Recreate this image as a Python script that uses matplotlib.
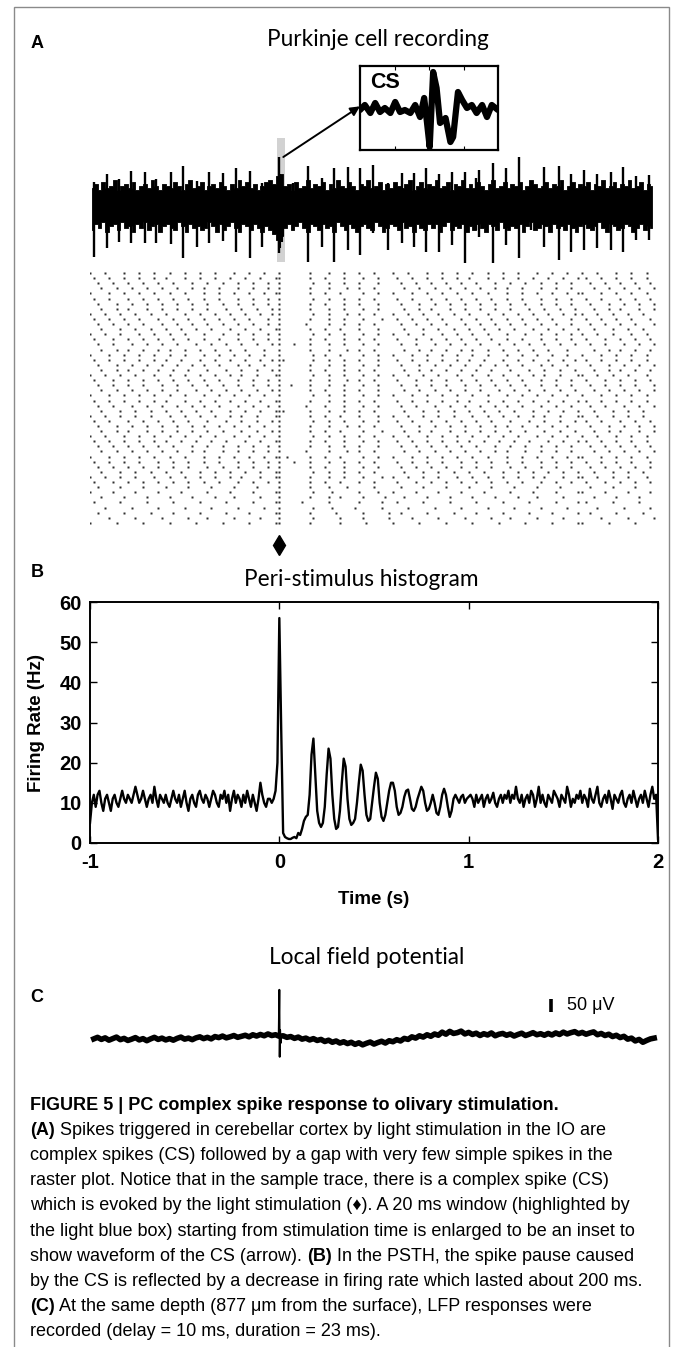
import numpy as np
import matplotlib
matplotlib.use("Agg")
import matplotlib.pyplot as plt
from matplotlib.patches import Rectangle

W, H = 673, 1347

# ---------------- data ----------------
# sample trace (A): envelope of the noise band every 20 ms, arbitrary units
trace_t0, trace_dt = -0.99, 0.02
trace_top = [0.9, 1.1, 0.8, 1.2, 0.9, 1.0, 1.3, 0.8, 1.0, 1.1,
             0.9, 1.2, 0.8, 1.0, 1.1, 0.9, 1.3, 1.0, 0.8, 1.1,
             1.0, 0.9, 1.2, 1.0, 0.8, 1.1, 1.3, 0.9, 1.0, 1.2,
             0.8, 1.0, 1.1, 0.9, 1.2, 1.0, 0.8, 1.1, 0.9, 1.3,
             1.0, 1.2, 0.9, 1.1, 0.8, 1.0, 1.2, 1.3, 1.1, 1.5,
             1.6, 1.0, 1.1, 0.8, 1.2, 0.9, 1.0, 1.3, 0.9, 1.1,
             1.0, 1.2, 0.8, 1.1, 0.9, 1.3, 1.0, 0.9, 1.2, 1.0,
             0.8, 1.1, 1.0, 1.3, 0.9, 1.0, 1.2, 0.8, 1.1, 0.9,
             1.2, 1.0, 0.9, 1.1, 1.3, 0.8, 1.0, 1.2, 0.9, 1.1,
             1.0, 1.3, 0.9, 1.0, 1.2, 0.8, 1.1, 1.0, 1.3, 0.9,
             1.1, 0.9, 1.2, 1.0, 0.8, 1.1, 1.3, 0.9, 1.0, 1.2,
             0.9, 1.1, 1.0, 1.2, 0.8, 1.0, 1.3, 1.1, 0.9, 1.0,
             1.2, 0.9, 1.1, 1.0, 1.3, 0.8, 1.0, 1.2, 0.9, 1.1,
             1.0, 1.2, 0.8, 1.1, 1.0, 1.3, 0.9, 1.0, 1.2, 0.9,
             1.1, 1.0, 1.3, 0.9, 1.0, 1.2, 0.8, 1.1, 1.0]
trace_bot = [-1.2, -0.9, -1.1, -0.8, -1.3, -1.0, -0.9, -1.2, -0.8, -1.1,
             -1.0, -1.3, -0.9, -1.1, -0.8, -1.2, -1.0, -0.9, -1.3, -1.0,
             -0.9, -1.1, -1.2, -0.8, -1.0, -1.3, -0.9, -1.1, -1.0, -1.2,
             -1.1, -0.8, -1.0, -1.3, -0.9, -1.2, -1.0, -0.8, -1.1, -1.3,
             -0.9, -1.0, -1.2, -0.9, -1.1, -1.3, -1.0, -1.2, -1.4, -1.7,
             -1.5, -1.1, -0.9, -1.2, -1.0, -0.8, -1.1, -1.3, -0.9, -1.0,
             -1.2, -0.9, -1.1, -1.0, -1.3, -0.8, -1.0, -1.2, -0.9, -1.1,
             -1.3, -1.0, -0.9, -1.1, -1.2, -0.8, -1.0, -1.3, -1.1, -0.9,
             -1.0, -1.2, -0.8, -1.1, -1.0, -1.3, -0.9, -1.1, -1.2, -0.9,
             -1.1, -0.9, -1.3, -1.0, -0.8, -1.2, -1.0, -1.1, -0.9, -1.3,
             -1.0, -1.2, -0.9, -1.1, -1.3, -0.9, -1.0, -1.2, -0.8, -1.1,
             -1.2, -1.0, -1.1, -0.9, -1.3, -1.0, -0.8, -1.2, -1.1, -0.9,
             -1.0, -1.3, -0.9, -1.1, -1.0, -1.2, -0.9, -1.1, -1.3, -1.0,
             -0.9, -1.1, -1.2, -1.0, -0.8, -1.1, -1.3, -0.9, -1.0, -1.2,
             -1.1, -0.9, -1.0, -1.3, -1.1, -0.9, -1.2, -1.0, -1.1]

# large simple spikes in the trace: time (s), peak, trough
spike_time = [-0.977, -0.910, -0.845, -0.783, -0.708, -0.651, -0.572, -0.511,
              -0.435, -0.370, -0.300, -0.229, -0.155, -0.092, 0.000, 0.070,
              0.153, 0.223, 0.287, 0.361, 0.428, 0.493, 0.572, 0.646, 0.709,
              0.775, 0.845, 0.912, 0.983, 1.039, 1.057, 1.127, 1.198, 1.264,
              1.330, 1.400, 1.475, 1.541, 1.611, 1.678, 1.752, 1.817, 1.884,
              1.955]
spike_peak = [1.22, 1.60, 1.35, 1.77, 1.69, 1.34, 1.72, 2.00, 1.25, 1.72,
              1.67, 1.92, 1.77, 1.14, 2.47, 1.14, 2.00, 1.39, 1.89, 1.97,
              1.89, 2.05, 1.14, 1.67, 1.64, 1.89, 1.60, 1.72, 1.72, 1.39,
              1.80, 2.17, 1.89, 2.44, 1.17, 1.97, 2.00, 1.60, 1.80, 1.60,
              1.72, 1.97, 1.50, 1.55]
spike_trough = [-2.53, -2.12, -1.78, -1.87, -1.83, -1.87, -1.92, -2.62, -2.03,
                -1.87, -1.73, -2.28, -2.62, -2.03, -2.37, -1.20, -2.78, -2.03,
                -2.78, -2.20, -2.45, -1.35, -2.20, -1.87, -2.03, -2.28, -2.28,
                -1.95, -2.87, -1.20, -1.53, -2.87, -1.95, -2.62, -1.20, -2.03,
                -2.70, -2.28, -2.20, -2.12, -2.20, -2.28, -1.70, -1.70]
# burst of the complex spike inside the 20 ms window
cs_time = [0.006, 0.012, 0.020]
cs_peak = [1.6, 1.3, 1.0]
cs_trough = [-2.1, -1.8, -1.5]
window_ms = 20

# inset: complex spike waveform (ms, a.u.)
cs_wave_t = [0, 0.7, 1.5, 2.2, 2.9, 3.6, 4.4, 5.1, 5.8, 6.5, 7.3, 8.0, 8.7,
             9.3, 9.7, 10.1, 10.6, 11.1, 11.6, 12.4, 13.1, 13.5, 14.2, 14.8,
             15.5, 16.2, 16.9, 17.7, 18.4, 19.1, 20.0]
cs_wave_v = [0, 5, -3, 7, -2, 2, -3, 8, -2, 0, -3, 5, -7, 12, -12, -37, 38,
             22, -13, -8, -32, -27, 18, 10, 2, 5, -3, 5, -7, 5, 0]

# raster: one string per trial, one character per 20 ms bin from -1 s, x = spike
raster_rows = [
    "x...x....x ...x...x.. .x...x...x ...x....x. ..x...x... x.......x. ...x...x.. .x...x.... x...x....x ...x...x.. .x...x...x ...x....x. ..x...x... x...x....x ...x...x..",
    ".x...x...x ...x...x.. x....x...x ...x...x.. .x...x...x x.......x. ..x....x.. ..x...x... .x...x...x ...x...x.. x....x...x ...x...x.. .x...x...x .x...x...x ...x...x..",
    "..x...x... x...x...x. ..x....x.. .x...x...x ...x...x.. x........x ...x...x.. .x....x... ..x...x... x...x...x. ..x....x.. .x...x...x ...x...x.. ..x...x... x...x...x.",
    "...x...x.. .x...x...x ...x...x.. x...x....x ...x...x.. x.......x. ...x....x. .x...x.... ...x...x.. .x...x...x ...x...x.. x...x....x ...x...x.. ...x...x.. .x...x...x",
    "x....x...x ...x...x.. .x...x.... x...x...x. ..x...x..x x.......x. ..x...x... ..x...x... x....x...x ...x...x.. .x...x.... x...x...x. ..x...x..x x....x...x ...x...x..",
    ".x...x.... x...x...x. ..x...x... x...x....x ...x...x.. x........x ...x...x.. .x...x.... .x...x.... x...x...x. ..x...x... x...x....x ...x...x.. .x...x.... x...x...x.",
    "..x....x.. .x...x...x ...x...x.. .x...x...x ...x...x.. x.......x. ..x....x.. .x....x... ..x....x.. .x...x...x ...x...x.. .x...x...x ...x...x.. ..x....x.. .x...x...x",
    "...x...x.. x....x...x ...x...x.. .x....x... x...x...x. x.......x. ...x...x.. ..x...x... ...x...x.. x....x...x ...x...x.. .x....x... x...x...x. ...x...x.. x....x...x",
    "x...x...x. ..x...x... x....x...x ...x...x.. .x...x..x. x........x ...x....x. .x...x.... x...x...x. ..x...x... x....x...x ...x...x.. .x...x..x. x...x...x. ..x...x...",
    ".x...x...x ...x....x. ..x...x... x...x...x. ..x....x.. x.......x. ...x...x.. ..x....x.. .x...x...x ...x....x. ..x...x... x...x...x. ..x....x.. .x...x...x ...x....x.",
    "..x...x... x...x....x ...x...x.. .x...x...x ...x...x.. x......x.. ...x...x.. .x...x.... ..x...x... x...x....x ...x...x.. .x...x...x ...x...x.. ..x...x... x...x....x",
    "...x....x. ..x...x... x...x...x. ..x....x.. .x...x...x x.......x. ..x...x... .x....x... ...x....x. ..x...x... x...x...x. ..x....x.. .x...x...x ...x....x. ..x...x...",
    "x...x...x. ...x...x.. .x...x.... x....x...x ...x...x.. x........x ...x...x.. ..x...x... x...x...x. ...x...x.. .x...x.... x....x...x ...x...x.. x...x...x. ...x...x..",
    ".x....x... x...x...x. ..x...x... x...x....x ...x...x.. x.......x. ..x....x.. .x...x.... .x....x... x...x...x. ..x...x... x...x....x ...x...x.. .x....x... x...x...x.",
    "..x...x... .x...x...x ...x....x. ..x...x... x...x...x. x...x...x. ...x...x.. ..x...x... ..x...x... .x...x...x ...x....x. ..x...x... x...x...x. ..x...x... .x...x...x",
    "...x...x.. x...x...x. .x...x...x ...x...x.. .x....x... x.......x. ...x....x. .x...x.... ...x...x.. x...x...x. .x...x...x ...x...x.. .x....x... ...x...x.. x...x...x.",
    "x....x...x ...x...x.. .x...x.... x...x...x. ..x...x... x........x ..x...x... ..x...x... x....x...x ...x...x.. .x...x.... x...x...x. ..x...x... x....x...x ...x...x..",
    ".x...x...x ...x...x.. x...x....x ...x...x.. .x...x..x. xx.......x ...x...x.. .x....x... .x...x...x ...x...x.. x...x....x ...x...x.. .x...x..x. .x...x...x ...x...x..",
    "..x....x.. .x...x...x ...x...x.. x...x....x ..x...x... x.......x. ...x...x.. ..x...x... ..x....x.. .x...x...x ...x...x.. x...x....x ..x...x... ..x....x.. .x...x...x",
    "...x...x.. x...x...x. ..x...x... .x....x... x...x...x. x.......x. ..x....x.. .x...x.... ...x...x.. x...x...x. ..x...x... .x....x... x...x...x. ...x...x.. x...x...x.",
    "x...x...x. ..x....x.. .x...x...x ...x...x.. x...x....x x........x ...x...x.. ..x...x... x...x...x. ..x....x.. .x...x...x ...x...x.. x...x....x x...x...x. ..x....x..",
    ".x....x... x...x...x. ..x...x... x...x....x ...x...x.. x.......x. ...x....x. .x...x.... .x....x... x...x...x. ..x...x... x...x....x ...x...x.. .x....x... x...x...x.",
    "..x...x... x...x....x ...x...x.. .x...x...x ...x...x.. x..x....x. ...x...x.. ..x...x... ..x...x... x...x....x ...x...x.. .x...x...x ...x...x.. ..x...x... x...x....x",
    "...x...x.. .x...x...x ...x....x. ..x...x... x...x...x. x.......x. ..x....x.. .x....x... ...x...x.. .x...x...x ...x....x. ..x...x... x...x...x. ...x...x.. .x...x...x",
    "x....x...x ...x...x.. .x...x.... x...x...x. ..x...x... x........x ...x...x.. ..x...x... x....x...x ...x...x.. .x...x.... x...x...x. ..x...x... x....x...x ...x...x..",
    ".x...x...x ...x...x.. x....x...x ...x...x.. .x...x...x x.......x. ...x...x.. .x...x.... .x...x...x ...x...x.. x....x...x ...x...x.. .x...x...x .x...x...x ...x...x..",
    "..x...x... .x...x...x ...x...x.. x...x....x ...x...x.. x......x.. ..x....x.. ..x...x... ..x...x... .x...x...x ...x...x.. x...x....x ...x...x.. ..x...x... .x...x...x",
    "...x....x. ..x...x... x...x...x. ..x....x.. .x...x...x xx......x. ...x...x.. .x...x.... ...x....x. ..x...x... x...x...x. ..x....x.. .x...x...x ...x....x. ..x...x...",
    "x...x...x. ..x...x... .x...x...x ...x...x.. x...x....x x.......x. ..x...x... .x....x... x...x...x. ..x...x... .x...x...x ...x...x.. x...x....x x...x...x. ..x...x...",
    ".x...x.... x...x...x. ..x...x... .x....x... x...x...x. x........x ...x...x.. ..x...x... .x...x.... x...x...x. ..x...x... .x....x... x...x...x. .x...x.... x...x...x.",
    "..x....x.. .x...x...x ...x...x.. x...x...x. ..x...x... x.......x. ...x....x. .x...x.... ..x....x.. .x...x...x ...x...x.. x...x...x. ..x...x... ..x....x.. .x...x...x",
    "...x...x.. x....x...x ...x...x.. .x...x.... x...x...x. x.......x. ..x...x... ..x....x.. ...x...x.. x....x...x ...x...x.. .x...x.... x...x...x. ...x...x.. x....x...x",
    "x...x....x ...x...x.. .x...x...x ...x....x. ..x...x... x........x ...x...x.. .x...x.... x...x....x ...x...x.. .x...x...x ...x....x. ..x...x... x...x....x ...x...x..",
    ".x...x...x ...x...x.. x...x...x. ..x...x... .x...x...x x.......x. ..x....x.. ..x...x... .x...x...x ...x...x.. x...x...x. ..x...x... .x...x...x .x...x...x ...x...x..",
    "..x...x... x...x...x. ..x....x.. .x...x...x ...x...x.. x.......x. ...x...x.. .x....x... ..x...x... x...x...x. ..x....x.. .x...x...x ...x...x.. ..x...x... x...x...x.",
    "...x...x.. .x...x...x ...x...x.. x....x...x ...x...x.. x......x.. ...x....x. .x...x.... ...x...x.. .x...x...x ...x...x.. x....x...x ...x...x.. ...x...x.. .x...x...x",
    "x....x...x ...x...x.. .x...x.... x...x...x. ..x...x..x x.x.....x. ..x...x... ..x...x... x....x...x ...x...x.. .x...x.... x...x...x. ..x...x..x x....x...x ...x...x..",
    ".x...x...x ...x....x. ..x...x... x...x....x ...x...x.. x...x...x. ...x...x.. .x...x.... .x...x...x ...x....x. ..x...x... x...x....x ...x...x.. .x...x...x ...x....x.",
    "..x...x... x...x...x. ..x...x... .x...x...x ...x...x.. x.......x. ..x....x.. ..x...x... ..x...x... x...x...x. ..x...x... .x...x...x ...x...x.. ..x...x... x...x...x.",
    "...x....x. ..x...x... x...x....x ...x...x.. .x...x...x x........x ...x...x.. .x...x.... ...x....x. ..x...x... x...x....x ...x...x.. .x...x...x ...x....x. ..x...x...",
    "x...x...x. ..x....x.. .x...x...x ...x...x.. x....x...x x.......x. ...x...x.. ..x....x.. x...x...x. ..x....x.. .x...x...x ...x...x.. x....x...x x...x...x. ..x....x..",
    ".x....x... x...x...x. ..x...x... x...x....x ...x...x.. x.......x. ..x...x... .x...x.... .x....x... x...x...x. ..x...x... x...x....x ...x...x.. .x....x... x...x...x.",
    "..x.....x. ....x..... x.....x... ..x.....x. ....x..... x.......x. ...x....x. .....x.... ..x.....x. ....x..... x.....x... ..x.....x. ....x..... ..x.....x. ....x.....",
    "x.....x... ..x.....x. ....x..... .x.....x.. ...x.....x x........x ....x..... .x....x... x.....x... ..x.....x. ....x..... .x.....x.. ...x.....x x.....x... ..x.....x.",
    "...x.....x .....x.... .x.....x.. ...x....x. .....x.... x.......x. ...x..x... ..x.....x. ...x.....x .....x.... .x.....x.. ...x....x. .....x.... ...x.....x .....x....",
    ".x......x. .....x.... ..x......x ......x... ...x.....x x.....x... ...x...... .x.....x.. .x......x. .....x.... ..x......x ......x... ...x.....x .x......x. .....x....",
    "....x..... .x......x. .....x.... ..x......x ......x... x........x ....x..... x......x.. ....x..... .x......x. .....x.... ..x......x ......x... ....x..... .x......x.",
    "..x......x ......x... ..x......x ......x... ..x......x x.......x. .....x.... ..x......x ..x......x ......x... ..x......x ......x... ..x......x ..x......x ......x...",
    ".....x.... ..x......x ......x... .x......x. .....x.... x........x ......x... ..x......x .....x.... ..x......x ......x... .x......x. .....x.... .....x.... ..x......x",
    "x......x.. ....x..... .x......x. .....x.... ..x......x x.......x. ......x... ...x...... x......x.. ....x..... .x......x. .....x.... ..x......x x......x.. ....x.....",
]
raster_bin = 0.02
stim_time = 0.0

# PSTH (B): firing rate in 10 ms bins from -1 to 2 s
psth_t0, psth_dt = -1.0, 0.01
psth_rate = [
    5, 10, 12, 9, 12, 13, 10, 8, 11, 12,
    10, 8, 11, 12, 10, 9, 11, 13, 11, 10,
    12, 11, 10, 12, 14, 12, 10, 11, 13, 11,
    9, 11, 12, 10, 14, 11, 9, 12, 11, 10,
    12, 10, 9, 11, 13, 11, 10, 12, 9, 11,
    13, 10, 8, 11, 12, 10, 9, 12, 13, 11,
    10, 12, 11, 9, 11, 13, 12, 10, 9, 12,
    11, 13, 10, 12, 8, 11, 13, 10, 12, 11,
    9, 12, 10, 13, 11, 9, 12, 10, 8, 11,
    15, 12, 10, 9, 11, 11, 10, 11, 13, 20,
    56, 28, 2.5, 1.5, 1.2, 1.0, 1.0, 1.3, 1.5, 1.2,
    2.5, 2.0, 3.5, 5.5, 6.5, 7.0, 12, 22, 26, 17,
    8, 5, 4, 5, 9, 17, 23.5, 21, 12, 6,
    3.5, 4, 8, 15, 21, 19, 11, 6, 4.5, 5,
    6, 10, 15, 19.5, 18, 12, 7, 5.5, 6, 10,
    14, 17.5, 16, 10, 6.5, 5.5, 7, 10, 13, 15,
    15, 13, 9, 7, 7.5, 9, 11.5, 13, 13.3, 11,
    8.5, 8, 9, 11, 12.5, 14, 13, 10, 8, 8.5,
    10, 12, 10, 7.5, 7, 9, 12, 13.5, 12, 9,
    6.5, 8, 11, 12, 11, 10, 11.5, 12, 10, 11,
    11.5, 12, 11, 9, 12, 10, 11, 12, 9, 11,
    12, 10, 11, 12.5, 10, 9, 11, 12, 10, 12,
    11, 13, 10, 12, 11, 14, 11, 10, 12, 9,
    11, 12, 10, 13, 12, 9, 11, 14, 10, 12,
    10, 9, 12, 11, 10, 13, 12, 11, 9, 12,
    11, 10, 14, 12, 9, 11, 10, 12, 11, 13,
    10, 12, 11, 9, 13.5, 11, 10, 12, 14, 10,
    9, 11, 12, 10, 13, 11, 8.5, 12, 11, 10,
    12, 13, 10, 9, 11, 12, 10, 13, 11, 9,
    11, 12, 10, 13, 11, 9, 12, 14, 11, 12,
    1,
]
psth_xticks = [-1, 0, 1, 2]
psth_yticks = [0, 10, 20, 30, 40, 50, 60]

# LFP (C): µV every 20 ms from -0.98 s, plus the evoked deflection
lfp_t0, lfp_dt = -0.98, 0.02
lfp_uv = [-4, 2, -6, 0, -9, -3, 3, -7, -2, -10,
          -5, 1, -8, -3, -11, -4, 2, -6, -1, -8,
          -3, -9, -2, 3, -5, -1, -7, 0, 4, -3,
          2, -4, 5, 1, 7, 0, 4, 9, 2, 6,
          10, 4, 12, 7, 13, 8, 15, 9, 12, 6,
          8, 2, 5, -2, 3, -5, -1, -8, -3, -10,
          -6, -14, -9, -17, -12, -20, -15, -22, -17, -25,
          -19, -27, -21, -16, -24, -18, -13, -20, -11, -15,
          -7, -12, -2, -6, 4, -1, 8, 3, 12, 6,
          15, 10, 22, 14, 25, 17, 20, 26, 15, 21,
          13, 18, 9, 16, 11, 19, 8, 14, 17, 10,
          15, 7, 13, 18, 9, 14, 20, 12, 16, 10,
          17, 11, 19, 13, 22, 15, 20, 24, 16, 21,
          14, 19, 23, 12, 17, 9, 14, 5, 10, 1,
          6, -5, -1, -12, -6, -17, -10, -4, -1]
lfp_evoked_t = [-0.006, -0.003, 0.0, 0.002, 0.004, 0.007, 0.010]
lfp_evoked_uv = [8, 20, 185, -73, 30, -20, 5]
scale_bar_uv = 50

caption_lines = [
    [("FIGURE 5 | PC complex spike response to olivary stimulation.", "bold")],
    [("(A)", "bold"), (" Spikes triggered in cerebellar cortex by light stimulation in the IO are", "normal")],
    [("complex spikes (CS) followed by a gap with very few simple spikes in the", "normal")],
    [("raster plot. Notice that in the sample trace, there is a complex spike (CS)", "normal")],
    [("which is evoked by the light stimulation (\u2666). A 20 ms window (highlighted by", "normal")],
    [("the light blue box) starting from stimulation time is enlarged to be an inset to", "normal")],
    [("show waveform of the CS (arrow). ", "normal"), ("(B)", "bold"), (" In the PSTH, the spike pause caused", "normal")],
    [("by the CS is reflected by a decrease in firing rate which lasted about 200 ms.", "normal")],
    [("(C)", "bold"), (" At the same depth (877 \u03bcm from the surface), LFP responses were", "normal")],
    [("recorded (delay = 10 ms, duration = 23 ms).", "normal")],
]

# ---------------- figure ----------------
fig = plt.figure(figsize=(W / 100, H / 100), dpi=100)
fig.patch.set_facecolor("white")

def px_axes(left, top, right, bottom):
    return fig.add_axes([left / W, 1 - bottom / H, (right - left) / W, (bottom - top) / H])

def fig_text(x, y, s, **kw):
    return fig.text(x / W, 1 - y / H, s, **kw)

title_font = ["Lato", "DejaVu Sans"]
bold_font = ["Liberation Sans", "DejaVu Sans"]
cap_font = ["Liberation Sans Narrow", "Liberation Sans", "DejaVu Sans"]

# frame around the panels
fig.patches.append(Rectangle((14 / W, -0.05), (669 - 14) / W, 1.05 - 7 / H,
                             transform=fig.transFigure, fill=False,
                             edgecolor="#8a8a8a", lw=1.0, clip_on=False))

# ---- A: sample trace ----
ax_tr = px_axes(90, 130, 658, 270)
tt = trace_t0 + trace_dt * np.arange(len(trace_top))
ax_tr.fill_between([stim_time - 0.012, stim_time + window_ms / 1000 * 1.6],
                   [-2.8, -2.8], [3.4, 3.4], color="#d2d2d2", lw=0, zorder=1)
ax_tr.fill_between(tt, trace_bot, trace_top, step="mid", color="black", lw=0.6,
                   edgecolor="black", zorder=2)
ax_tr.vlines(spike_time, spike_trough, spike_peak, color="black", lw=1.7, zorder=3)
ax_tr.vlines(cs_time, cs_trough, cs_peak, color="black", lw=1.5, zorder=3)
ax_tr.set_xlim(-1, 2)
ax_tr.set_ylim(-3.2, 3.8)
ax_tr.axis("off")

ax_in = px_axes(360, 66, 498, 150)
ax_in.plot(cs_wave_t, cs_wave_v, color="black", lw=4.5, solid_capstyle="round",
           solid_joinstyle="round")
ax_in.set_xlim(0, window_ms)
ax_in.set_ylim(-40, 44)
ax_in.set_xticks([5, 10, 15])
ax_in.set_yticks([])
ax_in.tick_params(axis="x", direction="in", length=3, width=0.8, top=True,
                  labelbottom=False)
for sp in ax_in.spines.values():
    sp.set_linewidth(1.6)
ax_in.text(0.07, 0.8, "CS", transform=ax_in.transAxes, fontsize=15.5,
           fontweight="bold", family=bold_font, va="center", ha="left")

ax_tr.annotate("", xy=(0.0, 0.52), xycoords=ax_in.transAxes,
               xytext=(0.021, 2.45), textcoords="data",
               arrowprops=dict(arrowstyle="-|>", color="black", lw=1.4,
                               mutation_scale=14, shrinkA=0, shrinkB=0),
               annotation_clip=False)

# ---- raster ----
ax_r = px_axes(90, 270, 658, 530)
for row, s in enumerate(raster_rows):
    bins = s.replace(" ", "")
    times = [-1 + raster_bin * i for i, c in enumerate(bins) if c == "x"]
    ax_r.plot(times, [row] * len(times), "s", ms=1.6, color="#303030", mec="none")
ax_r.plot([stim_time], [len(raster_rows) + 3.4], marker="d", ms=10,
          color="black", clip_on=False)
ax_r.set_xlim(-1, 2)
ax_r.set_ylim(len(raster_rows) + 0.4, -0.6)
ax_r.axis("off")

# ---- B: PSTH ----
ax_p = px_axes(90, 602, 658, 843)
pt = psth_t0 + psth_dt * np.arange(len(psth_rate))
ax_p.plot(pt, psth_rate, color="black", lw=1.7)
ax_p.set_xlim(-1, 2)
ax_p.set_ylim(0, 60)
ax_p.set_xticks(psth_xticks)
ax_p.set_xticklabels([str(v) for v in psth_xticks])
ax_p.set_yticks(psth_yticks)
ax_p.tick_params(direction="in", length=5, width=1.0, top=True, right=True,
                 labelsize=14.5)
ax_p.tick_params(axis="x", pad=7)
ax_p.tick_params(axis="y", pad=6)
for lab in ax_p.get_xticklabels() + ax_p.get_yticklabels():
    lab.set_fontweight("bold")
    lab.set_family(bold_font)
for sp in ax_p.spines.values():
    sp.set_linewidth(1.4)
ax_p.set_xlabel("Time (s)", fontsize=13.5, fontweight="bold", family=bold_font,
                labelpad=14)
ax_p.set_ylabel("Firing Rate (Hz)", fontsize=13.5, fontweight="bold",
                family=bold_font, labelpad=10)

# ---- C: LFP ----
ax_l = px_axes(90, 975, 658, 1075)
lt = lfp_t0 + lfp_dt * np.arange(len(lfp_uv))
ax_l.plot(lt, lfp_uv, color="black", lw=4.0, solid_joinstyle="round")
ax_l.plot(lfp_evoked_t, lfp_evoked_uv, color="black", lw=1.4)
ax_l.plot([1.435, 1.435], [98, 98 + scale_bar_uv], color="black", lw=2.6,
          solid_capstyle="butt")
ax_l.text(1.52, 98 + scale_bar_uv / 2, "50 \u03bcV", fontsize=13,
          family=["Liberation Sans", "DejaVu Sans"], va="center", ha="left")
ax_l.set_xlim(-1, 2)
ax_l.set_ylim(-143, 242)
ax_l.axis("off")

# ---- titles and panel letters ----
fig_text(378, 40, "Purkinje cell recording", fontsize=16.3, family=title_font,
         ha="center", va="center")
fig_text(361, 579, "Peri-stimulus histogram", fontsize=16.3, family=title_font,
         ha="center", va="center")
fig_text(367, 958, "Local field potential", fontsize=16.3, family=title_font,
         ha="center", va="center")
for letter, y in (("A", 43), ("B", 572), ("C", 998)):
    fig_text(37, y, letter, fontsize=13, fontweight="bold", family=bold_font,
             ha="center", va="center")

# ---- caption ----
renderer = fig.canvas.get_renderer()
y = 1105
for parts in caption_lines:
    x = 30
    for txt, weight in parts:
        t = fig_text(x, y, txt, fontsize=13, fontweight=weight, family=cap_font,
                     ha="left", va="center")
        x += t.get_window_extent(renderer).width
    y += 25.2

fig.savefig("out.png", dpi=100, facecolor="white")
